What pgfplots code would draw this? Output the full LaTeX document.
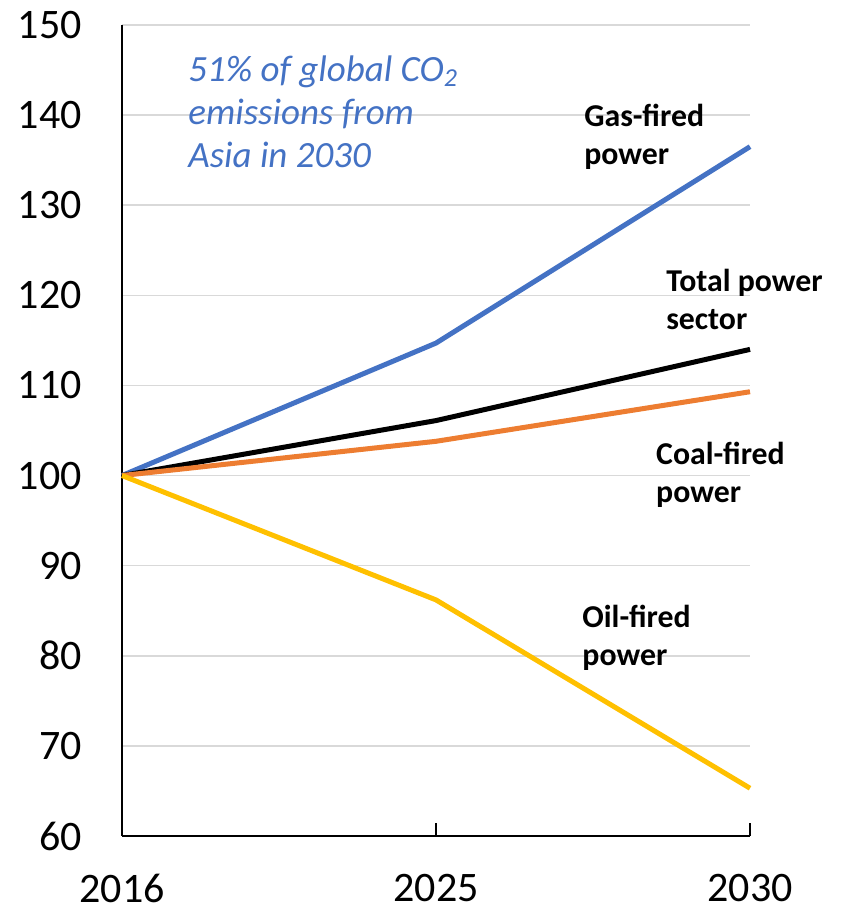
\documentclass[border=0pt]{standalone}
\usepackage{pgfplots}
\pgfplotsset{compat=1.18}
\usepackage{fontspec}
\setmainfont{Carlito}
\definecolor{gasblue}{HTML}{4472C4}
\definecolor{coalorange}{HTML}{ED7D31}
\definecolor{oilgold}{HTML}{FFC000}
\definecolor{gridgray}{HTML}{D9D9D9}
\begin{document}
\begin{tikzpicture}
\begin{axis}[
  name=ax,
  scale only axis,
  width=314pt, height=405.5pt,
  xmin=0, xmax=2, ymin=60, ymax=150,
  axis x line=bottom, axis y line=left,
  axis line style={black, line width=0.8pt, -},
  xtick={0,1,2}, xticklabels={2016,2025,2030},
  ytick={60,70,...,150},
  ymajorgrids, grid style={gridgray, line width=0.8pt},
  tick align=inside,
  x tick style={black, line width=0.8pt},
  major tick length=6.5pt,
  y tick style={draw=none},
  /pgf/number format/assume math mode=true,
  tick label style={font=\fontsize{21}{24}\selectfont, inner sep=0pt},
  yticklabel style={anchor=east, xshift=-20pt},
  xticklabel style={anchor=north, yshift=-19pt},
  clip=false,
]
\addplot[gasblue, line width=2.5pt] coordinates {(0,100) (1,114.7) (2,136.5)};
\addplot[black, line width=2.5pt] coordinates {(0,100) (1,106.1) (2,114.0)};
\addplot[coalorange, line width=2.5pt] coordinates {(0,100) (1,103.8) (2,109.3)};
\addplot[oilgold, line width=2.5pt] coordinates {(0,100) (1,86.2) (2,65.3)};
\node[anchor=north west, inner sep=0pt, align=left, text=gasblue, font=\fontsize{18.5}{21.5}\selectfont\itshape] at (axis cs:0.21,146.6) {51\% of global CO\textsubscript{2}\\emissions from\\Asia in 2030};
\node[anchor=north west, inner sep=0pt, align=left, font=\fontsize{15.9}{19}\selectfont\bfseries] at (axis cs:1.471,141.3) {Gas-fired\\power};
\node[anchor=north west, inner sep=0pt, align=left, font=\fontsize{15.9}{19}\selectfont\bfseries] at (axis cs:1.732,122.9) {Total power\\sector};
\node[anchor=north west, inner sep=0pt, align=left, font=\fontsize{15.9}{19}\selectfont\bfseries] at (axis cs:1.70,103.8) {Coal-fired\\power};
\node[anchor=north west, inner sep=0pt, align=left, font=\fontsize{15.9}{19}\selectfont\bfseries] at (axis cs:1.465,85.7) {Oil-fired\\power};
\end{axis}
\path ([xshift=-61pt,yshift=-36.5pt]ax.south west) rectangle ([xshift=46.5pt,yshift=12.5pt]ax.north east);
\end{tikzpicture}
\end{document}
